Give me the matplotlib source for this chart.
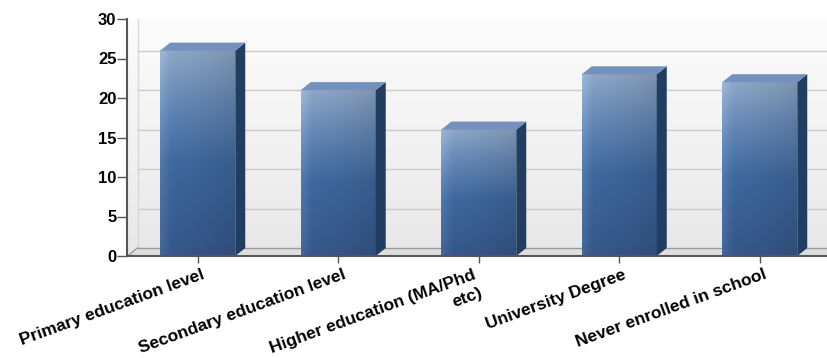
import numpy as np
import matplotlib
matplotlib.use("Agg")
import matplotlib.pyplot as plt
from matplotlib.colors import LinearSegmentedColormap
from matplotlib.patches import Polygon
from matplotlib.transforms import ScaledTranslation

categories = ["Primary education level", "Secondary education level",
              "Higher education (MA/Phd\netc)", "University Degree",
              "Never enrolled in school"]
values = [26, 21, 16, 23, 22]
yticks = [0, 5, 10, 15, 20, 25, 30]

plt.rcParams['font.family'] = ['Liberation Sans', 'DejaVu Sans']

W, H = 827, 358
fig = plt.figure(figsize=(W / 100, H / 100), dpi=100)
ax_left, ax_right, ax_bottom, ax_top = 127.5, 827, 256, 19
ax = fig.add_axes([ax_left / W, (H - ax_bottom) / H,
                   (ax_right - ax_left) / W, (ax_bottom - ax_top) / H])

spacing_px = 140.5
xmax = -0.5 + (ax_right - ax_left) / spacing_px
ax.set_xlim(-0.5, xmax)
ax.set_ylim(0, 30)

# depth of the pseudo-3D effect in pixels -> data units
depth_px_x, depth_px_y = 10, 8
dx = depth_px_x / spacing_px
dy = depth_px_y / ((ax_bottom - ax_top) / 30)

# background gradient (back wall)
bg = LinearSegmentedColormap.from_list("bg", ["#e7e7e7", "#f2f2f2", "#fcfcfc"])
ax.imshow(np.linspace(0, 1, 256).reshape(-1, 1), extent=[0, 1, 0, 1],
          transform=ax.transAxes, aspect='auto', cmap=bg, origin='lower', zorder=0)

# floor
floor = Polygon([(-0.5, 0), (xmax, 0), (xmax, dy), (-0.5 + dx, dy)],
                closed=True, facecolor="#dedede", edgecolor="none", zorder=1)
ax.add_patch(floor)
ax.plot([-0.5, -0.5 + dx], [0, dy], color="#9a9a9a", lw=1, zorder=1.5)
ax.plot([-0.5 + dx, xmax], [dy, dy], color="#9a9a9a", lw=1, zorder=1.5)
ax.plot([-0.5 + dx, -0.5 + dx], [dy, 30], color="#d8d8d8", lw=1, zorder=1.2)

# gridlines on back wall
for t in yticks[1:]:
    ax.plot([-0.5 + dx, xmax], [t + dy, t + dy], color="#cccccc", lw=1,
            zorder=1.2, clip_on=True)

# bar face shading: vertical colour ramp times horizontal light falloff
front_cmap = LinearSegmentedColormap.from_list(
    "front", [(0, "#35578a"), (0.45, "#3f699f"), (0.75, "#6689b6"), (1, "#8fa8c8")])
vert = front_cmap(np.linspace(0, 1, 256))[:, :3]
hx = np.linspace(0, 1, 64)
hfac = 1.0 - 0.12 * hx ** 1.5
hlift = 0.06 * np.clip(1 - hx / 0.15, 0, 1)
face = vert[:, None, :] * hfac[None, :, None] + hlift[None, :, None]
face = np.clip(face, 0, 1)

bw = 75 / spacing_px
for i, v in enumerate(values):
    x0, x1 = i - bw / 2, i + bw / 2
    ax.imshow(face, extent=[x0, x1, 0, v], aspect='auto',
              origin='lower', zorder=3, interpolation='bilinear')
    side = Polygon([(x1, 0), (x1 + dx, dy), (x1 + dx, v + dy), (x1, v)],
                   closed=True, facecolor="#213d60", edgecolor="none", zorder=3)
    top = Polygon([(x0, v), (x0 + dx, v + dy), (x1 + dx, v + dy), (x1, v)],
                  closed=True, facecolor="#7391bc", edgecolor="none", zorder=3)
    ax.add_patch(side)
    ax.add_patch(top)

ax.set_xlim(-0.5, xmax)
ax.set_ylim(0, 30)

for s in ["top", "right"]:
    ax.spines[s].set_visible(False)
for s in ["left", "bottom"]:
    ax.spines[s].set_color("#555555")
    ax.spines[s].set_linewidth(1.5)
    ax.spines[s].set_zorder(5)

ax.set_yticks(yticks)
ax.set_yticklabels([str(t) for t in yticks], fontsize=12, fontweight='bold')
ax.tick_params(axis='y', length=7, width=1, color="#555555", pad=1)

ax.set_xticks(range(len(categories)))
ax.set_xticklabels(categories, fontsize=12.5, fontweight='bold', rotation=20,
                   ha='right', va='top', rotation_mode='anchor',
                   multialignment='right', linespacing=1.4)
ax.tick_params(axis='x', length=5, width=1, color="#555555", pad=3)
for lab in ax.get_xticklabels():
    shift = 4 if "\n" not in lab.get_text() else -6
    off = ScaledTranslation(shift / 100, 0, fig.dpi_scale_trans)
    lab.set_transform(lab.get_transform() + off)

fig.savefig("out.png", dpi=100)
